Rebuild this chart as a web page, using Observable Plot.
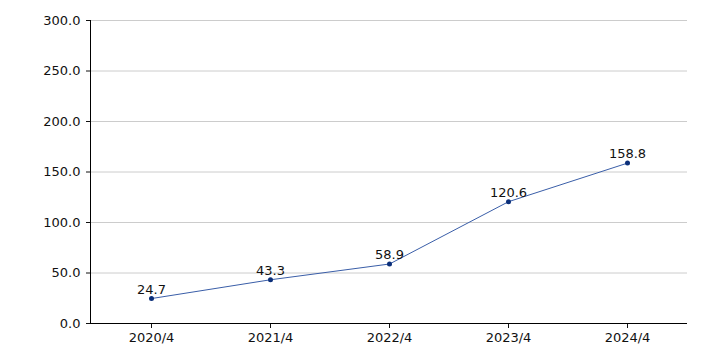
<!DOCTYPE html>
<html><head><meta charset="utf-8">
<script src="https://cdn.jsdelivr.net/npm/d3@7"></script>
<script src="https://cdn.jsdelivr.net/npm/@observablehq/plot@0.6"></script>
<style>body{margin:0;background:#fff;} svg{font-family:"DejaVu Sans",Verdana,sans-serif;}</style>
</head><body><div id="chart"></div>
<script>
const categories = ["2020/4","2021/4","2022/4","2023/4","2024/4"];
const values = [24.7, 43.3, 58.9, 120.6, 158.8];
const yTicks = [0,50,100,150,200,250,300];
const data = categories.map((c,i)=>({c, v: values[i]}));
const chart = Plot.plot({
  width: 706, height: 353,
  marginLeft: 90, marginRight: 19, marginTop: 20, marginBottom: 30,
  style: {fontSize: "13px", fontFamily: "'DejaVu Sans', Verdana, sans-serif", color: "#111", background: "#fff"},
  x: {type: "point", domain: categories, padding: 0.5, label: null},
  y: {domain: [0,300], label: null},
  marks: [
    Plot.gridY(yTicks, {stroke: "#cccccc", strokeOpacity: 1}),
    Plot.axisX({tickSize: 5, tickPadding: 4, label: null, fontSize: 13}),
    Plot.axisY({ticks: yTicks, tickFormat: d => d.toFixed(1), tickSize: 4, tickPadding: 6, label: null, fontSize: 13}),
    Plot.frame({anchor: "left", stroke: "#000"}),
    Plot.ruleY([0], {stroke: "#000"}),
    Plot.line(data, {x: "c", y: "v", stroke: "#3a5ea8", strokeWidth: 1}),
    Plot.dot(data, {x: "c", y: "v", r: 2.5, fill: "#0b2f7a", stroke: null}),
    Plot.text(data, {x: "c", y: "v", text: d => d.v.toFixed(1), dy: -9, fill: "#111", fontSize: 13})
  ]
});
document.getElementById("chart").appendChild(chart);
</script></body></html>
